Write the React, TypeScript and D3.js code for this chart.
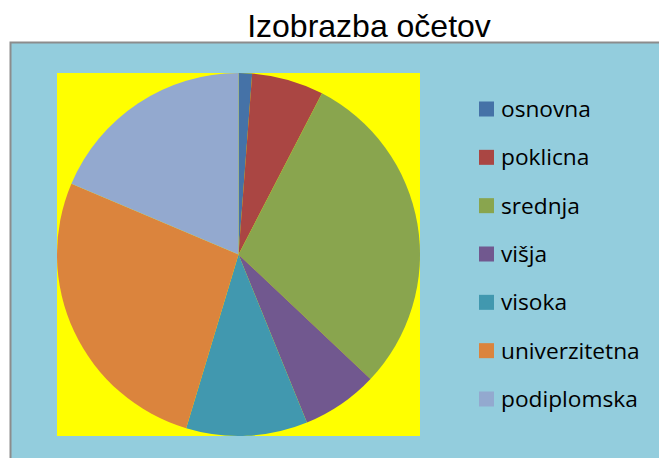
import React from "react";
import * as d3 from "d3";

const categories = ["osnovna", "poklicna", "srednja", "višja", "visoka", "univerzitetna", "podiplomska"];
const values = [1.2, 6.4, 29.4, 6.8, 10.8, 26.7, 18.6];
const colors = ["#4572A7", "#AA4643", "#89A54E", "#71588F", "#4198AF", "#DB843D", "#93A9CF"];
const title = "Izobrazba očetov";

export default function App() {
  const W = 659, H = 458;
  const cx = 238.5, cy = 254.5, r = 181.5;
  const pie = d3.pie<number>().sort(null).value((d) => d)(values);
  const arc = d3.arc<d3.PieArcDatum<number>>().innerRadius(0).outerRadius(r);
  const legendY = d3.scaleLinear().domain([0, categories.length - 1]).range([109, 399]);
  return (
    <svg width={W} height={H} style={{ position: "absolute", left: 0, top: 0 }}>
      <rect x={0} y={0} width={W} height={H} fill="#fff" />
      <text x={369} y={37} textAnchor="middle" fontFamily="Liberation Sans, Arial" fontSize={32} fill="#000">{title}</text>
      <rect x={10.5} y={42.5} width={W + 10} height={H} fill="#93CDDD" stroke="#8C8C8C" strokeWidth={2} />
      <rect x={57} y={73} width={363} height={363} fill="#FFFF00" />
      <g transform={`translate(${cx},${cy})`}>
        {pie.map((p, i) => (
          <path key={i} d={arc(p) || ""} fill={colors[i]} />
        ))}
      </g>
      {categories.map((c, i) => (
        <g key={c} transform={`translate(479,${legendY(i)})`}>
          <rect x={0} y={-7.5} width={15} height={15} fill={colors[i]} />
          <text x={22} y={8} fontFamily="Open Sans" fontSize={22.7} fill="#000">{c}</text>
        </g>
      ))}
    </svg>
  );
}
